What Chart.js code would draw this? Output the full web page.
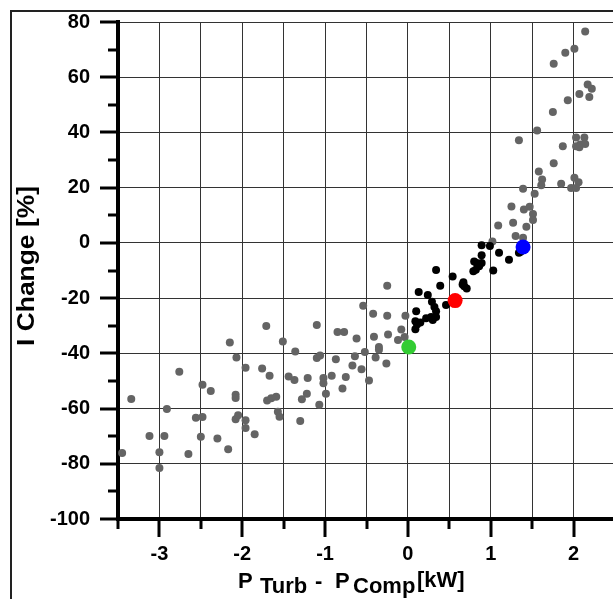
<!DOCTYPE html>
<html>
<head>
<meta charset="utf-8">
<script src="https://cdn.jsdelivr.net/npm/chart.js@4.4.0/dist/chart.umd.min.js"></script>
<style>
    html, body { margin: 0; padding: 0; background: #fff; overflow: hidden; }
    #wrap { width: 615px; height: 599px; }
</style>
</head>
<body>
<div id="wrap"><canvas id="chartCanvas" width="615" height="599"></canvas></div>
<script>
// measured data (gray = all runs, black = selected runs)
const grayX = [-3.45, -3.34, -3.12, -3.00, -3.00, -2.94, -2.91, -2.76, -2.65, -2.56, -2.50, -2.48, -2.48, -2.38,
    -2.30, -2.17, -2.15, -2.08, -2.08, -2.08, -2.05, -2.07, -1.96, -1.96, -1.96, -1.85, -1.76, -1.71, -1.70,
    -1.67, -1.65, -1.59, -1.57, -1.55, -1.51, -1.44, -1.37, -1.36, -1.30, -1.28, -1.22, -1.21, -1.10, -1.10,
    -1.06, -1.07, -1.02, -1.02, -0.99, -0.92, -0.87, -0.85, -0.77, -0.79, -0.75, -0.62, -0.64, -0.67, -0.56,
    -0.54, -0.52, -0.47, -0.42, -0.41, -0.39, -0.35, -0.35, -0.26, -0.25, -0.25, -0.24, -0.12, -0.08, -0.03,
    -0.04, 1.02, 1.30, 1.39, 1.09, 1.27, 1.43, 1.25, 1.40, 1.47, 1.51, 1.51, 1.39, 1.53, 1.58, 1.62, 1.61,
    1.76, 1.85, 2.01, 2.06, 1.97, 2.03, 1.34, 1.56, 1.87, 2.03, 2.13, 2.08, 2.03, 2.14, 2.07, 1.75, 1.93,
    2.07, 2.17, 2.22, 2.19, 1.76, 1.90, 2.01, 2.14];
const grayY = [-76.1, -56.5, -69.9, -75.8, -81.5, -69.9, -60.2, -46.7, -76.5, -63.3, -70.2, -63.1, -51.4, -53.6,
    -70.8, -74.7, -36.1, -55.0, -56.2, -63.9, -62.4, -41.5, -45.2, -64.2, -67.0, -69.3, -45.5, -30.1, -57.1,
    -48.1, -56.3, -55.7, -61.2, -63.0, -35.7, -48.4, -49.7, -39.3, -64.5, -56.6, -54.6, -48.9, -29.7, -41.7,
    -40.8, -58.6, -48.9, -50.8, -54.6, -48.1, -42.1, -32.3, -32.3, -52.7, -48.6, -34.6, -41.1, -44.4, -45.8,
    -22.8, -39.5, -49.8, -25.7, -34.0, -41.5, -37.7, -38.7, -43.7, -15.5, -26.4, -33.2, -35.2, -31.4, -26.4,
    -34.1, 0.5, 2.5, 1.9, 6.3, 7.3, 5.8, 13.2, 12.1, 13.1, 10.5, 8.3, 19.6, 17.8, 25.9, 23.0, 20.9,
    28.8, 21.4, 23.6, 22.0, 19.9, 19.9, 37.2, 40.7, 35.0, 38.2, 38.2, 35.6, 35.0, 35.8, 34.6, 47.4, 51.7,
    53.9, 57.4, 55.8, 52.8, 64.9, 68.9, 70.3, 76.6];

const blackX = [0.89, 0.99, 1.10, 0.89, 1.22, 0.80, 0.83, 0.89, 0.82, 0.79, 0.86, 1.03, 0.34, 0.54, 0.39, 0.67,
    0.66, 0.71, 0.68, 0.13, 0.24, 0.29, 0.32, 0.34, 0.34, 0.46, 0.10, 0.09, 0.15, 0.22, 0.28, 0.30, 0.09,
    0.11, 1.36, 1.34];
const blackY = [-0.9, -1.1, -3.6, -4.5, -6.1, -6.7, -7.3, -7.3, -9.7, -10.3, -8.5, -10.0, -9.8, -12.2, -15.5, -14.3,
    -15.1, -16.5, -15.7, -17.8, -18.9, -21.3, -23.2, -24.8, -26.8, -22.5, -24.8, -28.4, -28.8, -27.3, -26.8, -27.9, -31.3,
    -29.6, -3.2, -3.6];

// highlighted operating points
const greenPoint = { x: 0.01, y: -37.7 };
const redPoint = { x: 0.57, y: -20.9 };
const bluePoint = { x: 1.39, y: -1.5 };

const xMin = -3.5, xMax = 2.5, xStep = 0.5;
const yMin = -100, yMax = 80, yStep = 10;

const FONT = "Arial, 'Liberation Sans', sans-serif";

function toPoints(xs, ys) {
    return xs.map((x, i) => ({ x: x, y: ys[i] }));
}

// frame, tick marks and axis titles
const decorPlugin = {
    id: 'decor',
    beforeDraw(chart) {
        const ctx = chart.ctx;
        ctx.save();
        ctx.strokeStyle = '#222';
        ctx.lineWidth = 2;
        ctx.beginPath();
        ctx.moveTo(11, 605);
        ctx.lineTo(11, 11);
        ctx.lineTo(620, 11);
        ctx.stroke();
        ctx.restore();
    },
    afterDraw(chart) {
        const ctx = chart.ctx;
        const xs = chart.scales.x;
        const ys = chart.scales.y;
        const area = chart.chartArea;
        ctx.save();
        ctx.strokeStyle = '#000';
        ctx.lineWidth = 3;
        // x ticks
        xs.ticks.forEach(t => {
            const px = Math.round(xs.getPixelForValue(t.value));
            const len = Number.isInteger(t.value) ? 18 : 10;
            ctx.beginPath();
            ctx.moveTo(px, area.bottom);
            ctx.lineTo(px, area.bottom + len);
            ctx.stroke();
        });
        // y ticks
        ys.ticks.forEach(t => {
            const py = Math.round(ys.getPixelForValue(t.value));
            const len = t.value % 20 === 0 ? 18 : 10;
            ctx.beginPath();
            ctx.moveTo(area.left, py);
            ctx.lineTo(area.left - len, py);
            ctx.stroke();
        });

        // y title
        ctx.fillStyle = '#000';
        ctx.font = 'bold 23px ' + FONT;
        ctx.textAlign = 'center';
        ctx.textBaseline = 'alphabetic';
        const yTitle = 'I Change [%]';
        const w = ctx.measureText(yTitle).width;
        ctx.save();
        ctx.translate(34, 266);
        ctx.rotate(-Math.PI / 2);
        ctx.scale(160 / w, 1);
        ctx.fillText(yTitle, 0, 0);
        ctx.restore();

        // x title with lowered subscripts
        ctx.font = 'bold 22px ' + FONT;
        ctx.textAlign = 'left';
        const parts = [
            ['P', 238, 588],
            ['Turb', 260, 593],
            ['-', 315, 588],
            ['P', 335, 588],
            ['Comp', 353, 593],
            ['[kW]', 417, 587]
        ];
        parts.forEach(p => ctx.fillText(p[0], p[1], p[2]));
        ctx.restore();
    }
};

const chart = new Chart(document.getElementById('chartCanvas').getContext('2d'), {
    type: 'scatter',
    data: {
        datasets: [
            { label: 'green', data: [greenPoint], backgroundColor: '#33cc33', pointRadius: 7.5, borderWidth: 0, order: 1 },
            { label: 'red', data: [redPoint], backgroundColor: '#ff0000', pointRadius: 7.5, borderWidth: 0, order: 1 },
            { label: 'blue', data: [bluePoint], backgroundColor: '#0000ff', pointRadius: 7.5, borderWidth: 0, order: 1 },
            { label: 'selected', data: toPoints(blackX, blackY), backgroundColor: '#000', pointRadius: 4, borderWidth: 0, order: 2 },
            { label: 'all', data: toPoints(grayX, grayY), backgroundColor: '#646464', pointRadius: 4, borderWidth: 0, order: 3 }
        ]
    },
    options: {
        responsive: false,
        animation: false,
        devicePixelRatio: 1,
        layout: { autoPadding: false, padding: { top: 22, right: 0, left: 0, bottom: 0 } },
        plugins: {
            legend: { display: false },
            tooltip: { enabled: false }
        },
        scales: {
            x: {
                type: 'linear',
                min: xMin,
                max: xMax,
                afterFit: s => { s.height = 80; },
                border: { display: true, color: '#000', width: 4 },
                // invisible chart.js ticks only push the labels down; real ticks drawn by plugin
                grid: { color: '#333', lineWidth: 1, drawTicks: true, tickLength: 23, tickColor: 'rgba(0,0,0,0)' },
                ticks: {
                    stepSize: xStep,
                    autoSkip: false,
                    maxRotation: 0,
                    padding: 0,
                    color: '#000',
                    font: { family: FONT, size: 20, weight: 'bold' },
                    callback: v => Number.isInteger(v) ? String(v) : ''
                }
            },
            y: {
                type: 'linear',
                min: yMin,
                max: yMax,
                afterFit: s => { s.width = 118; },
                border: { display: true, color: '#000', width: 4 },
                grid: {
                    drawTicks: true,
                    tickLength: 28,
                    tickColor: 'rgba(0,0,0,0)',
                    lineWidth: 1,
                    color: c => (c.tick && c.tick.value % 20 === 0) ? '#333' : 'rgba(0,0,0,0)'
                },
                ticks: {
                    stepSize: yStep,
                    autoSkip: false,
                    padding: 0,
                    color: '#000',
                    font: { family: FONT, size: 20, weight: 'bold' },
                    callback: v => v % 20 === 0 ? String(v) : ''
                }
            }
        }
    },
    plugins: [decorPlugin]
});
</script>
</body>
</html>
